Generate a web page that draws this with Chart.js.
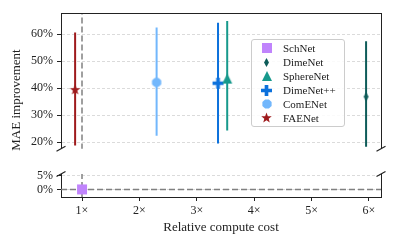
<!DOCTYPE html>
<html>
<head>
<meta charset="utf-8">
<script src="https://cdn.jsdelivr.net/npm/chart.js@4.4.0/dist/chart.umd.min.js"></script>
<style>
  html, body { margin: 0; padding: 0; background: #fff; }
  #wrap { position: relative; width: 399px; height: 247px; overflow: hidden; }
  #topChart { position: absolute; left: 0; top: 0; }
  #bottomChart { position: absolute; left: 0; top: 160px; }
  #legend {
    position: absolute; left: 251px; top: 39px; width: 92px; height: 86px;
    background: rgba(255,255,255,0.85); border: 1px solid #cccccc; border-radius: 3px;
    font-family: 'Liberation Serif', 'DejaVu Serif', serif; font-size: 11px; color: #222;
  }
  #legend .row { position: absolute; left: 0; height: 14px; line-height: 14px; width: 92px; }
  #legend canvas { position: absolute; top: 0; }
  #legend span { position: absolute; left: 31px; top: 0; white-space: nowrap; }
</style>
</head>
<body>
<div id="wrap">
  <canvas id="topChart" width="399" height="160"></canvas>
  <canvas id="bottomChart" width="399" height="87"></canvas>
  <div id="legend"></div>
</div>
<script>
// chart values
const models = ['SchNet', 'DimeNet', 'SphereNet', 'DimeNet++', 'ComENet', 'FAENet'];
const computeCost = [1, 5.95, 3.53, 3.37, 2.30, 0.88];
const maeImprovement = [0, 36.8, 43.5, 41.8, 42.1, 39.5];
const errLow = [null, 18.3, 24.3, 19.5, 22.3, 18.7];
const errHigh = [null, 57.3, 64.8, 64.2, 62.4, 60.6];
const xTicks = [1, 2, 3, 4, 5, 6];
const yTicksTop = [20, 30, 40, 50, 60];
const yTicksBottom = [0, 5];
const baselineCost = 1;
const baselineImprovement = 0;

// axis limits (top panel / bottom panel of the broken axis)
const xMin = 0.634, xMax = 6.21;
const topMin = 17.5, topMax = 67.8;
const bottomMin = -2.75, bottomMax = 5.55;

// styles
const colors = ['#c084fc', '#0e5c59', '#17998c', '#0c71dc', '#72b7fc', '#9e1a1c'];
const shapes = ['square', 'thinDiamond', 'triangle', 'plus', 'octagon', 'star'];
const markerSizes = [10, 9, 10, 11, 10, 11];
const fontFamily = "'Liberation Serif', 'DejaVu Serif', serif";
const inkColor = '#222';

function makeMarker(shape, color, size) {
  const s = Math.ceil(size) + 2;
  const c = document.createElement('canvas');
  c.width = s; c.height = s;
  const g = c.getContext('2d');
  const m = s / 2, r = size / 2;
  g.fillStyle = color;
  g.beginPath();
  if (shape === 'square') {
    g.rect(m - r, m - r, 2 * r, 2 * r);
  } else if (shape === 'thinDiamond') {
    g.moveTo(m, m - r); g.lineTo(m + 0.55 * r, m); g.lineTo(m, m + r); g.lineTo(m - 0.55 * r, m);
  } else if (shape === 'triangle') {
    g.moveTo(m, m - r); g.lineTo(m + r, m + r); g.lineTo(m - r, m + r);
  } else if (shape === 'plus') {
    const a = r / 3;
    g.moveTo(m - a, m - r); g.lineTo(m + a, m - r); g.lineTo(m + a, m - a); g.lineTo(m + r, m - a);
    g.lineTo(m + r, m + a); g.lineTo(m + a, m + a); g.lineTo(m + a, m + r); g.lineTo(m - a, m + r);
    g.lineTo(m - a, m + a); g.lineTo(m - r, m + a); g.lineTo(m - r, m - a); g.lineTo(m - a, m - a);
  } else if (shape === 'octagon') {
    for (let k = 0; k < 8; k++) {
      const t = Math.PI / 8 + k * Math.PI / 4;
      const px = m + r * Math.cos(t), py = m + r * Math.sin(t);
      k === 0 ? g.moveTo(px, py) : g.lineTo(px, py);
    }
  } else if (shape === 'star') {
    for (let k = 0; k < 10; k++) {
      const t = -Math.PI / 2 + k * Math.PI / 5;
      const rr = k % 2 === 0 ? r : r * 0.42;
      const px = m + rr * Math.cos(t), py = m + 0.5 + rr * Math.sin(t);
      k === 0 ? g.moveTo(px, py) : g.lineTo(px, py);
    }
  }
  g.closePath();
  g.fill();
  return c;
}

const markerImgs = models.map((_, i) => makeMarker(shapes[i], colors[i], markerSizes[i]));

function buildDatasets() {
  const sets = [];
  // markers first so they are drawn on top
  models.forEach((name, i) => {
    sets.push({
      label: name,
      data: [{ x: computeCost[i], y: maeImprovement[i] }],
      pointStyle: markerImgs[i],
      pointRadius: 5,
      pointHoverRadius: 5,
      clip: 0
    });
  });
  models.forEach((name, i) => {
    if (errLow[i] === null) return;
    sets.push({
      label: name + ' range',
      data: [{ x: computeCost[i], y: errLow[i] }, { x: computeCost[i], y: errHigh[i] }],
      showLine: true,
      borderColor: colors[i],
      borderWidth: 2,
      pointRadius: 0,
      clip: 0
    });
  });
  // reference lines: baseline cost and baseline improvement
  sets.push({
    label: 'baseline cost',
    data: [{ x: baselineCost, y: bottomMin }, { x: baselineCost, y: topMax }],
    showLine: true, borderColor: '#808080', borderWidth: 1.5, borderDash: [6, 3],
    pointRadius: 0, clip: 0
  });
  sets.push({
    label: 'baseline improvement',
    data: [{ x: xMin, y: baselineImprovement }, { x: xMax, y: baselineImprovement }],
    showLine: true, borderColor: '#808080', borderWidth: 1.5, borderDash: [6, 3],
    pointRadius: 0, clip: 0
  });
  return sets;
}

// draws the remaining spines and the diagonal break marks
const framePlugin = {
  id: 'frame',
  afterDraw(chart, args, opts) {
    const { ctx, chartArea: a } = chart;
    ctx.save();
    ctx.strokeStyle = inkColor;
    ctx.lineWidth = 1;
    ctx.beginPath();
    if (opts.top) { ctx.moveTo(a.left, Math.round(a.top) + 0.5); ctx.lineTo(a.right + 0.5, Math.round(a.top) + 0.5); }
    ctx.moveTo(Math.round(a.right) + 0.5, a.top); ctx.lineTo(Math.round(a.right) + 0.5, a.bottom);
    ctx.stroke();
    const yb = opts.breakAt === 'bottom' ? a.bottom : a.top;
    ctx.lineWidth = 1.2;
    ctx.beginPath();
    for (const xb of [a.left, a.right]) {
      ctx.moveTo(xb - 4.5, yb + 2.5);
      ctx.lineTo(xb + 4.5, yb - 2.5);
    }
    ctx.stroke();
    if (opts.yTitle) {
      ctx.fillStyle = inkColor;
      ctx.font = '13px ' + fontFamily;
      ctx.textAlign = 'center';
      ctx.textBaseline = 'middle';
      ctx.translate(opts.yTitle.x, opts.yTitle.y);
      ctx.rotate(-Math.PI / 2);
      ctx.fillText(opts.yTitle.text, 0, 0);
    }
    ctx.restore();
  }
};

function yScale(min, max, ticks) {
  return {
    type: 'linear',
    min: min,
    max: max,
    afterBuildTicks: s => { s.ticks = ticks.map(v => ({ value: v })); },
    afterFit: s => { s.width = 61; },
    ticks: { callback: v => v + '%', color: inkColor, padding: 4, font: { family: fontFamily, size: 12 } },
    grid: { color: '#d2d2d2', lineWidth: 0.8, tickColor: inkColor, tickLength: 4, tickWidth: 1 },
    border: { color: inkColor, width: 1, dash: [3, 2] }
  };
}

const commonPlugins = {
  legend: { display: false },
  tooltip: { enabled: false }
};

const topChart = new Chart(document.getElementById('topChart'), {
  type: 'scatter',
  data: { datasets: buildDatasets() },
  options: {
    responsive: false,
    animation: false,
    layout: { padding: { top: 13, bottom: 7, left: 0, right: 18 } },
    scales: {
      x: { type: 'linear', min: xMin, max: xMax, display: false },
      y: yScale(topMin, topMax, yTicksTop)
    },
    plugins: Object.assign({
      frame: { top: true, breakAt: 'bottom', yTitle: { text: 'MAE improvement', x: 17, y: 100 } }
    }, commonPlugins)
  },
  plugins: [framePlugin]
});

const bottomChart = new Chart(document.getElementById('bottomChart'), {
  type: 'scatter',
  data: { datasets: buildDatasets() },
  options: {
    responsive: false,
    animation: false,
    layout: { padding: { top: 14, bottom: 0, left: 0, right: 18 } },
    scales: {
      x: {
        type: 'linear',
        min: xMin,
        max: xMax,
        afterBuildTicks: s => { s.ticks = xTicks.map(v => ({ value: v })); },
        afterFit: s => { s.height = 50; },
        ticks: { callback: v => v + '×', color: inkColor, padding: 3, maxRotation: 0, font: { family: fontFamily, size: 12 } },
        grid: { drawOnChartArea: false, tickColor: inkColor, tickLength: 4, tickWidth: 1 },
        border: { color: inkColor, width: 1 },
        title: { display: true, text: 'Relative compute cost', color: inkColor, padding: { top: 0, bottom: 12 }, font: { family: fontFamily, size: 13 } }
      },
      y: yScale(bottomMin, bottomMax, yTicksBottom)
    },
    plugins: Object.assign({ frame: { top: false, breakAt: 'top' } }, commonPlugins)
  },
  plugins: [framePlugin]
});

// legend built from the marker datasets
const legend = document.getElementById('legend');
topChart.data.datasets.slice(0, models.length).forEach((ds, i) => {
  const row = document.createElement('div');
  row.className = 'row';
  row.style.top = (1.3 + i * 13.9) + 'px';
  const img = markerImgs[i];
  const c = document.createElement('canvas');
  c.width = img.width; c.height = img.height;
  c.getContext('2d').drawImage(img, 0, 0);
  c.style.left = (14.5 - img.width / 2) + 'px';
  c.style.top = (7 - img.height / 2) + 'px';
  const label = document.createElement('span');
  label.textContent = ds.label;
  row.appendChild(c);
  row.appendChild(label);
  legend.appendChild(row);
});
</script>
</body>
</html>
